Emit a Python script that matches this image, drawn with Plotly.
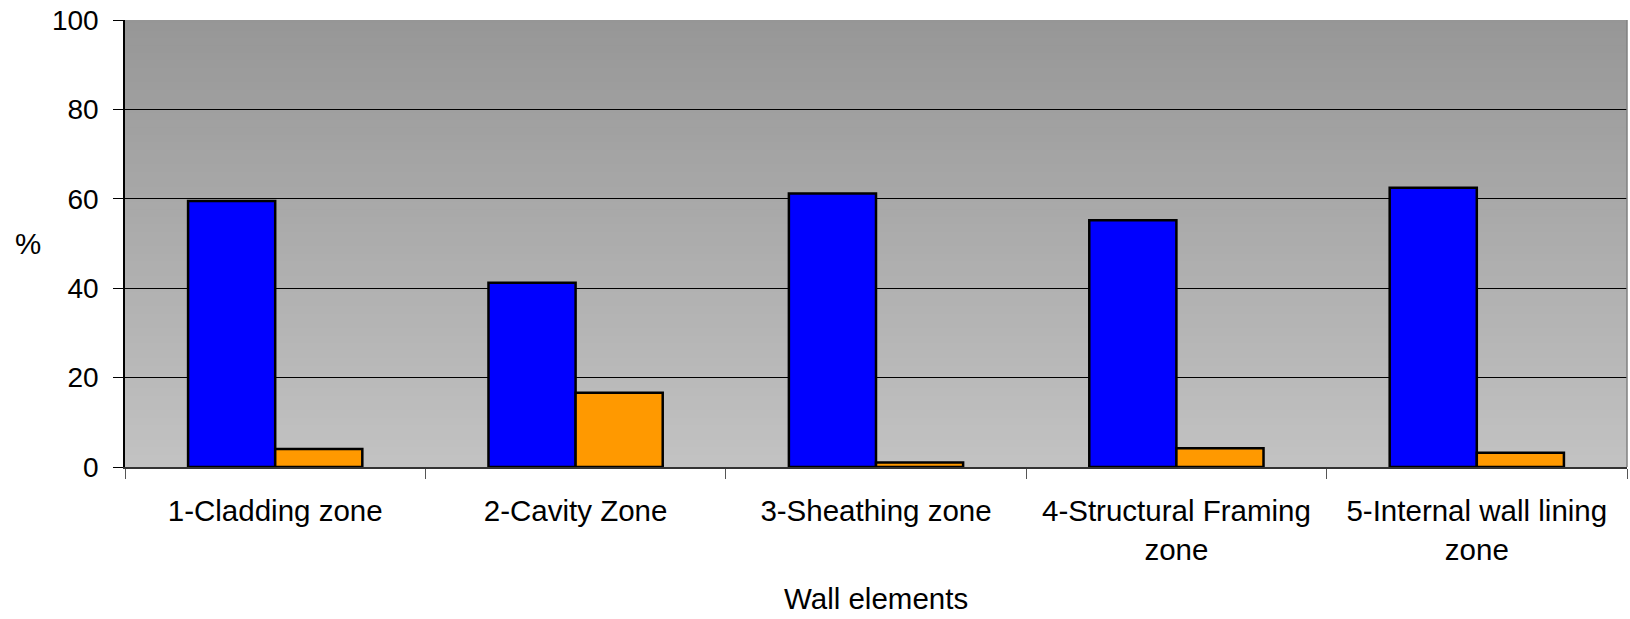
import plotly.graph_objects as go

categories = ["1-Cladding zone", "2-Cavity Zone", "3-Sheathing zone",
              "4-Structural Framing<br>zone", "5-Internal wall lining<br>zone"]
series_blue = [59.5, 41.2, 61.2, 55.2, 62.5]
series_orange = [4.0, 16.6, 1.0, 4.2, 3.2]
y_ticks = [0, 20, 40, 60, 80, 100]

FONT = "Liberation Sans, Arial, sans-serif"

fig = go.Figure()
fig.add_trace(go.Bar(x=categories, y=series_blue, marker=dict(color="#0000FF", line=dict(color="black", width=2.5)), name="A"))
fig.add_trace(go.Bar(x=categories, y=series_orange, marker=dict(color="#FF9900", line=dict(color="black", width=2.5)), name="B"))

# vertical gradient background
shapes = []
n = 60
top = (0x96, 0x96, 0x96)
bot = (0xC2, 0xC2, 0xC2)
for i in range(n):
    t = (i + 0.5) / n
    c = tuple(int(round(top[k] + (bot[k] - top[k]) * t)) for k in range(3))
    shapes.append(dict(type="rect", xref="x domain", yref="y domain",
                       x0=0, x1=1, y0=max(0, 1 - (i + 1) / n), y1=min(1, 1 - i / n + 0.6 / n),
                       fillcolor="rgb(%d,%d,%d)" % c, line=dict(width=0), layer="below"))
shapes.append(dict(type="line", xref="x domain", yref="y domain", x0=1, x1=1, y0=0, y1=1,
                   line=dict(color="#808080", width=1.5), layer="above"))

fig.update_layout(
    width=1630, height=619,
    margin=dict(l=125, r=3, t=20, b=152, autoexpand=False),
    paper_bgcolor="white", plot_bgcolor="rgba(0,0,0,0)",
    barmode="group", bargap=0.42, bargroupgap=0,
    showlegend=False,
    font=dict(family=FONT, size=29.5, color="black"),
    shapes=shapes,
    annotations=[
        dict(text="%", xref="paper", yref="paper", x=-0.0646, y=0.501, showarrow=False,
             font=dict(size=29.5), xanchor="center", yanchor="middle"),
        dict(text="Wall elements", xref="paper", yref="paper", x=0.500, y=-0.295,
             showarrow=False, font=dict(size=29.5), xanchor="center", yanchor="middle"),
    ],
)
fig.update_yaxes(range=[0, 100], tickvals=y_ticks, showgrid=True, gridcolor="black", gridwidth=1,
                 ticks="outside", ticklen=10, tickcolor="black", showline=True, linecolor="black",
                 linewidth=1.5, zeroline=False, ticklabelstandoff=9, tickfont=dict(size=28),
                 automargin=False, ticklabeloverflow="allow")
fig.update_xaxes(showline=True, linecolor="#333333", linewidth=1.5, ticks="outside", ticklen=10,
                 tickcolor="#555555", tickson="boundaries", tickfont=dict(size=29.5),
                 ticklabelstandoff=17, automargin=False, ticklabeloverflow="allow")

fig.write_html("out.html", config={"displayModeBar": False},
               post_script="document.body.style.margin='0';")
